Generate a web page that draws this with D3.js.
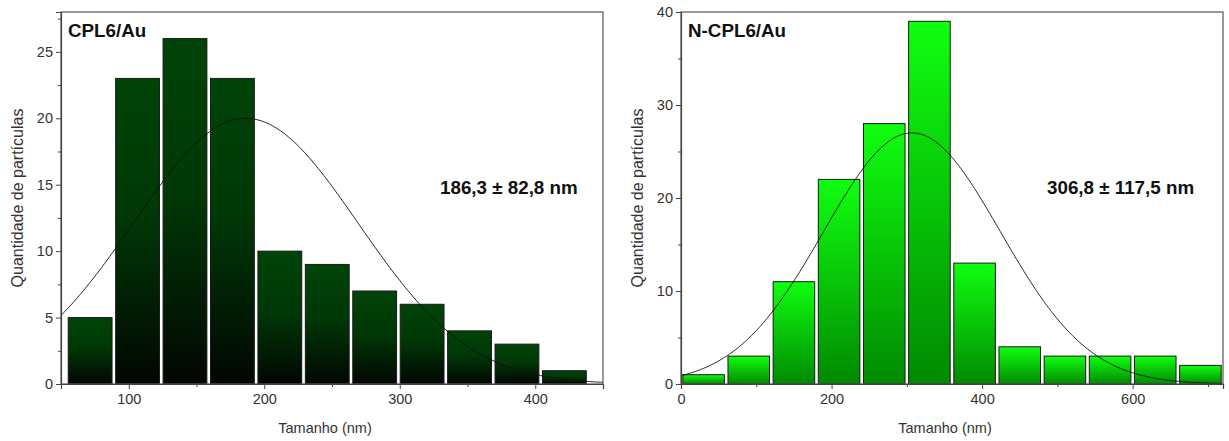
<!DOCTYPE html>
<html>
<head>
<meta charset="utf-8">
<script src="https://cdn.jsdelivr.net/npm/d3@7/dist/d3.min.js"></script>
<style>
  body { margin: 0; background: #fff; }
  text { font-family: Arial, "Liberation Sans", sans-serif; }
</style>
</head>
<body>
<svg width="1229" height="441"></svg>
<script>
// left panel: CPL6/Au
var leftBinEdges = [54, 89, 124, 159, 194, 229, 264, 299, 334, 369, 404, 439];
var leftCounts = [5, 23, 26, 23, 10, 9, 7, 6, 4, 3, 1];
var leftXTicks = [100, 200, 300, 400];
var leftYTicks = [0, 5, 10, 15, 20, 25];
var leftMean = 186.3, leftSd = 82.8, leftPeak = 20;

// right panel: N-CPL6/Au
var rightBinEdges = [0, 60, 120, 180, 240, 300, 360, 420, 480, 540, 600, 660, 720];
var rightCounts = [1, 3, 11, 22, 28, 39, 13, 4, 3, 3, 3, 2];
var rightXTicks = [0, 200, 400, 600];
var rightYTicks = [0, 10, 20, 30, 40];
var rightMean = 306.8, rightSd = 117.5, rightPeak = 27;

var svg = d3.select("svg");
var defs = svg.append("defs");

function gradient(id, stops) {
  var g = defs.append("linearGradient").attr("id", id)
    .attr("x1", 0).attr("y1", 0).attr("x2", 0).attr("y2", 1);
  stops.forEach(function(s) {
    g.append("stop").attr("offset", s[0]).attr("stop-color", s[1]);
  });
}
gradient("gDark", [["0%", "#004408"], ["45%", "#003806"], ["100%", "#020602"]]);
gradient("gLight", [["0%", "#10ff10"], ["100%", "#008a00"]]);

function panel(opt) {
  var x = d3.scaleLinear().domain(opt.xDomain).range([opt.left, opt.right]);
  var y = d3.scaleLinear().domain(opt.yDomain).range([384, 12]);
  var g = svg.append("g");

  g.append("clipPath").attr("id", opt.id + "clip")
    .append("rect").attr("x", opt.left).attr("y", 12)
    .attr("width", opt.right - opt.left).attr("height", 372);

  // bars
  g.selectAll(".bar").data(opt.counts).enter().append("rect")
    .attr("x", function(d, i) { return x(opt.edges[i]) + 1.8; })
    .attr("width", function(d, i) { return x(opt.edges[i + 1]) - x(opt.edges[i]) - 3.6; })
    .attr("y", function(d) { return y(d); })
    .attr("height", function(d) { return y(0) - y(d); })
    .attr("fill", "url(#" + opt.fill + ")")
    .attr("stroke", "#1a1a1a")
    .attr("stroke-width", 1);

  // normal fit curve
  var xs = d3.range(opt.xDomain[0], opt.xDomain[1] + 1, 2);
  var line = d3.line()
    .x(function(v) { return x(v); })
    .y(function(v) { return y(opt.peak * Math.exp(-Math.pow(v - opt.mean, 2) / (2 * opt.sd * opt.sd))); })
    .curve(d3.curveBasis);
  g.append("path").datum(xs)
    .attr("d", line)
    .attr("fill", "none")
    .attr("stroke", "#111")
    .attr("stroke-width", 0.9)
    .attr("clip-path", "url(#" + opt.id + "clip)");

  // frame
  g.append("rect").attr("x", opt.left).attr("y", 12)
    .attr("width", opt.right - opt.left).attr("height", 372)
    .attr("fill", "none").attr("stroke", "#555").attr("stroke-width", 1.2);

  // axes
  g.append("g").attr("transform", "translate(0,384)")
    .call(d3.axisBottom(x).tickValues(opt.xTicks).tickSize(5).tickPadding(5));
  g.append("g").attr("transform", "translate(0,384)")
    .call(d3.axisBottom(x).tickValues(opt.xMinor).tickSize(3).tickFormat(""))
    .select(".domain").remove();
  g.append("g").attr("transform", "translate(" + opt.left + ",0)")
    .call(d3.axisLeft(y).tickValues(opt.yTicks).tickSize(5).tickPadding(3));
  g.append("g").attr("transform", "translate(" + opt.left + ",0)")
    .call(d3.axisLeft(y).tickValues(opt.yMinor).tickSize(3).tickFormat(""))
    .select(".domain").remove();

  g.selectAll(".domain").attr("stroke", "#444").attr("stroke-width", 1.2);
  g.selectAll(".tick line").attr("stroke", "#444");
  g.selectAll(".tick text").attr("fill", "#333").style("font-size", "14.5px");

  var cx = (opt.left + opt.right) / 2 - 7;
  g.append("text").attr("x", cx).attr("y", 433)
    .attr("text-anchor", "middle").attr("fill", "#333")
    .style("font-size", "14.5px").text("Tamanho (nm)");
  g.append("text")
    .attr("transform", "translate(" + (opt.left - 38) + ",198) rotate(-90)")
    .attr("text-anchor", "middle").attr("fill", "#333")
    .style("font-size", "16px").text("Quantidade de partículas");

  g.append("text").attr("x", opt.left + 7).attr("y", 37)
    .attr("fill", "#111").style("font-size", "18.8px").style("font-weight", "bold")
    .text(opt.title);
  g.append("text").attr("x", opt.noteX).attr("y", 194)
    .attr("fill", "#111").style("font-size", "18.8px").style("font-weight", "bold")
    .text(opt.note);
}

panel({
  id: "l", left: 61, right: 603, xDomain: [50, 450], yDomain: [0, 28],
  edges: leftBinEdges, counts: leftCounts, fill: "gDark",
  xTicks: leftXTicks, xMinor: [150, 250, 350],
  yTicks: leftYTicks, yMinor: [2.5, 7.5, 12.5, 17.5, 22.5, 27.5],
  mean: leftMean, sd: leftSd, peak: leftPeak,
  title: "CPL6/Au", note: "186,3 ± 82,8 nm", noteX: 440
});

panel({
  id: "r", left: 681, right: 1223, xDomain: [0, 720], yDomain: [0, 40],
  edges: rightBinEdges, counts: rightCounts, fill: "gLight",
  xTicks: rightXTicks, xMinor: [100, 300, 500, 700],
  yTicks: rightYTicks, yMinor: [5, 15, 25, 35],
  mean: rightMean, sd: rightSd, peak: rightPeak,
  title: "N-CPL6/Au", note: "306,8 ± 117,5 nm", noteX: 1047
});
</script>
</body>
</html>
